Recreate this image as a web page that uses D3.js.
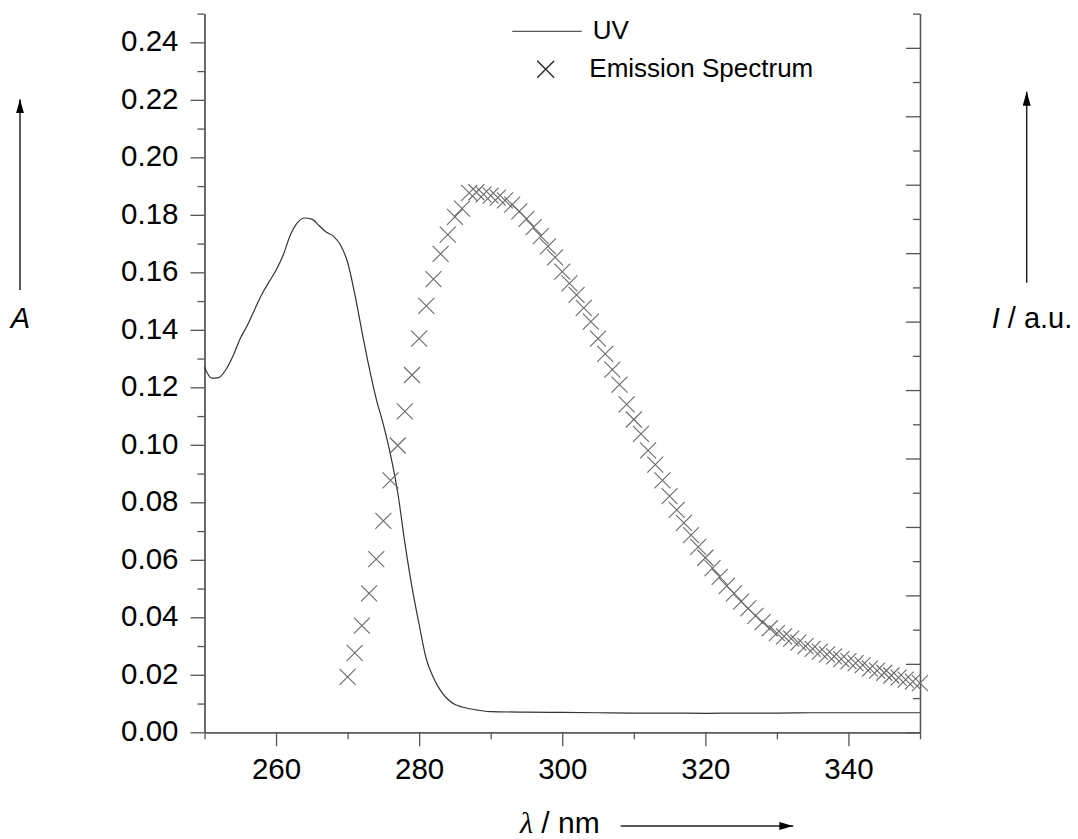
<!DOCTYPE html>
<html>
<head>
<meta charset="utf-8">
<script src="https://cdn.jsdelivr.net/npm/d3@7"></script>
<style>
  html, body { margin: 0; padding: 0; background: #fff; }
  svg { display: block; font-family: "Liberation Sans", Arial, sans-serif; }
</style>
</head>
<body>
<svg id="chart"></svg>
<script>
// UV absorption spectrum (left axis)
const uvWavelength = [250,251,252,253,254,255,256,257,258,259,260,261,262,263,264,265,266,267,268,269,
  270,271,272,273,274,275,276,277,278,279,280,281,282,283,284,285,286,287,288,289,290,
  295,300,305,310,315,320,325,330,335,340,345,350];
const uvAbsorbance = [0.127,0.1232,0.1234,0.1262,0.1310,0.1370,0.1416,0.1470,0.1523,0.1566,
  0.1607,0.1660,0.1730,0.1773,0.1789,0.1785,0.1763,0.1740,0.1726,0.1695,
  0.1635,0.1525,0.1395,0.1270,0.1160,0.1070,0.0965,0.0835,0.0660,0.0505,
  0.0375,0.0255,0.0190,0.0145,0.0115,0.0097,0.0088,0.0082,0.0078,0.0074,0.0072,
  0.0070,0.0069,0.0068,0.0067,0.0067,0.0066,0.0067,0.0067,0.0068,0.0068,0.0068,0.0068];

// emission spectrum (right axis, arbitrary units)
const emWavelength = [270,271,272,273,274,275,276,277,278,279,280,281,282,283,284,285,286,287,288,289,
  290,291,292,293,294,295,296,297,298,299,300,301,302,303,304,305,306,307,308,309,
  310,311,312,313,314,315,316,317,318,319,320,321,322,323,324,325,326,327,328,329,
  330,331,332,333,334,335,336,337,338,339,340,341,342,343,344,345,346,347,348,349,350];
const emIntensity = [0.81,1.16,1.56,2.03,2.53,3.09,3.68,4.19,4.69,5.22,
  5.75,6.23,6.62,6.99,7.27,7.53,7.65,7.88,7.89,7.86,
  7.84,7.81,7.77,7.71,7.61,7.50,7.38,7.25,7.10,6.94,
  6.73,6.56,6.39,6.20,6.00,5.75,5.53,5.30,5.08,4.79,
  4.57,4.36,4.12,3.91,3.68,3.45,3.25,3.06,2.88,2.71,
  2.55,2.40,2.27,2.14,2.03,1.91,1.81,1.70,1.61,1.52,
  1.45,1.40,1.37,1.31,1.26,1.22,1.18,1.14,1.11,1.07,
  1.04,1.01,0.98,0.93,0.90,0.87,0.83,0.80,0.77,0.74,0.72];

const absTicks = [0,0.02,0.04,0.06,0.08,0.10,0.12,0.14,0.16,0.18,0.20,0.22,0.24];
const absMinorTicks = [0.01,0.03,0.05,0.07,0.09,0.11,0.13,0.15,0.17,0.19,0.21,0.23,0.25];
const wlTicks = [260,280,300,320,340];
const wlMinorTicks = [250,270,290,310,330,350];
const intTicks = [0,1,2,3,4,5,6,7,8,9,10];
const intMinorTicks = [0.5,1.5,2.5,3.5,4.5,5.5,6.5,7.5,8.5,9.5,10.5];
const legendLabels = ["UV", "Emission Spectrum"];

const width = 1078, height = 839;
const x0 = 204.5, x1 = 920, yTop = 13.6, yBot = 732.3;
const axisColor = "#555";

const svg = d3.select("#chart").attr("width", width).attr("height", height);

let xscl = d3.scaleLinear([250, 350], [x0, x1]);
let yscl = d3.scaleLinear([0, 0.25], [yBot, yTop]);
let y2scl = d3.scaleLinear([0, 10.5], [yBot, yTop]);

function styleAxis(g) {
  g.select(".domain").attr("stroke", axisColor).attr("stroke-width", 1.3);
  g.selectAll(".tick line").attr("stroke", axisColor).attr("stroke-width", 1.3);
  g.selectAll(".tick text").attr("fill", "#000").attr("font-size", 29.5)
   .attr("font-family", "'Liberation Sans', Arial, sans-serif");
}

// left axis
svg.append("g").attr("transform", `translate(${x0},0)`)
  .call(d3.axisLeft(yscl).tickValues(absMinorTicks).tickSize(7).tickFormat("").tickSizeOuter(0))
  .call(styleAxis);
svg.append("g").attr("transform", `translate(${x0},0)`)
  .call(d3.axisLeft(yscl).tickValues(absTicks).tickSize(14).tickPadding(12)
    .tickFormat(d3.format(".2f")).tickSizeOuter(0))
  .call(styleAxis)
  .selectAll(".tick text").attr("dy", "0.29em");

// right axis (ticks inward, no labels)
svg.append("g").attr("transform", `translate(${x1},0)`)
  .call(d3.axisLeft(y2scl).tickValues(intMinorTicks).tickSize(7).tickFormat("").tickSizeOuter(0))
  .call(styleAxis);
svg.append("g").attr("transform", `translate(${x1},0)`)
  .call(d3.axisLeft(y2scl).tickValues(intTicks).tickSize(14).tickFormat("").tickSizeOuter(0))
  .call(styleAxis);

// bottom axis
svg.append("g").attr("transform", `translate(0,${yBot})`)
  .call(d3.axisBottom(xscl).tickValues(wlMinorTicks).tickSize(7).tickFormat("").tickSizeOuter(0))
  .call(styleAxis);
svg.append("g").attr("transform", `translate(0,${yBot})`)
  .call(d3.axisBottom(xscl).tickValues(wlTicks).tickSize(14).tickPadding(12).tickSizeOuter(0))
  .call(styleAxis);

// UV line
const uvData = uvWavelength.map((w, i) => [w, uvAbsorbance[i]]);
svg.append("path")
  .datum(uvData)
  .attr("fill", "none")
  .attr("stroke", "#333")
  .attr("stroke-width", 1.2)
  .attr("d", d3.line(d => xscl(d[0]), d => yscl(d[1])).curve(d3.curveMonotoneX));

// emission crosses
const cross = r => `M${-r},${-r}L${r},${r}M${-r},${r}L${r},${-r}`;
const emData = emWavelength.map((w, i) => [w, emIntensity[i]]);
svg.append("g").selectAll("path")
  .data(emData)
  .join("path")
  .attr("transform", d => `translate(${xscl(d[0])},${y2scl(d[1])})`)
  .attr("d", cross(8))
  .attr("fill", "none")
  .attr("stroke", "#6a6a6a")
  .attr("stroke-width", 1.1);

// legend
const leg = svg.append("g");
leg.append("line").attr("x1", 512.3).attr("x2", 581.7).attr("y1", 31.3).attr("y2", 31.3)
  .attr("stroke", "#555").attr("stroke-width", 1.3);
leg.append("text").attr("x", 592.7).attr("y", 39.3).attr("font-size", 26).text(legendLabels[0]);
leg.append("path").attr("transform", "translate(545.7,69.3)").attr("d", cross(8.5))
  .attr("fill", "none").attr("stroke", "#222").attr("stroke-width", 1.3);
leg.append("text").attr("x", 589.3).attr("y", 77.3).attr("font-size", 26).text(legendLabels[1]);

// axis titles with arrows
svg.append("defs").append("marker")
  .attr("id", "ah").attr("viewBox", "0 0 14 8").attr("refX", 14).attr("refY", 4)
  .attr("markerUnits", "userSpaceOnUse").attr("markerWidth", 14).attr("markerHeight", 8)
  .attr("orient", "auto")
  .append("path").attr("d", "M0,0L14,4L0,8Z").attr("fill", "#000");

svg.append("line").attr("x1", 20).attr("x2", 20).attr("y1", 290).attr("y2", 99.3)
  .attr("stroke", "#222").attr("stroke-width", 1.5).attr("marker-end", "url(#ah)");
svg.append("text").attr("x", 20.5).attr("y", 327.7).attr("text-anchor", "middle")
  .attr("font-size", 29).attr("font-style", "italic").text("A");

svg.append("line").attr("x1", 1026.7).attr("x2", 1026.7).attr("y1", 282.7).attr("y2", 91.7)
  .attr("stroke", "#222").attr("stroke-width", 1.5).attr("marker-end", "url(#ah)");
const rt = svg.append("text").attr("x", 991.7).attr("y", 328.3).attr("font-size", 29);
rt.append("tspan").attr("font-style", "italic").text("I");
rt.append("tspan").text(" / a.u.");

const xt = svg.append("text").attr("x", 520).attr("y", 832.7).attr("font-size", 30);
xt.append("tspan").attr("font-style", "italic").attr("font-family", "'Liberation Serif', serif").text("λ");
xt.append("tspan").text(" / nm");
svg.append("line").attr("x1", 620.7).attr("x2", 793.3).attr("y1", 826).attr("y2", 826)
  .attr("stroke", "#222").attr("stroke-width", 1.5).attr("marker-end", "url(#ah)");
</script>
</body>
</html>
